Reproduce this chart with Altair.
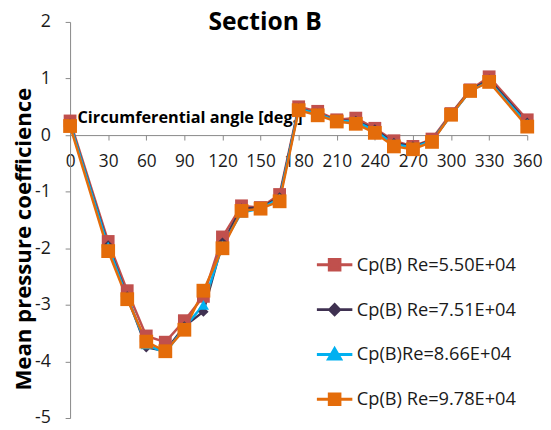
import altair as alt
import pandas as pd

angles = [0, 30, 45, 60, 75, 90, 105, 120, 135, 150, 165, 180, 195, 210, 225, 240, 255, 270, 285, 300, 315, 330, 360]

series_names = ["Cp(B) Re=5.50E+04", "Cp(B) Re=7.51E+04", "Cp(B)Re=8.66E+04", "Cp(B) Re=9.78E+04"]

cp_550 = [0.25, -1.88, -2.75, -3.55, -3.66, -3.28, -2.85, -1.80, -1.25, -1.28, -1.05, 0.50, 0.42, 0.27, 0.30, 0.12, -0.10, -0.20, -0.07, 0.38, 0.80, 1.03, 0.27]
cp_751 = [0.20, -1.95, -2.85, -3.75, -3.82, -3.38, -3.12, -1.90, -1.30, -1.28, -1.10, 0.47, 0.38, 0.26, 0.25, 0.10, -0.14, -0.20, -0.10, 0.36, 0.79, 0.98, 0.22]
cp_866 = [0.20, -1.97, -2.87, -3.70, -3.85, -3.40, -3.00, -1.95, -1.37, -1.30, -1.12, 0.46, 0.38, 0.25, 0.24, 0.08, -0.16, -0.22, -0.10, 0.35, 0.78, 0.95, 0.20]
cp_978 = [0.16, -2.05, -2.90, -3.65, -3.82, -3.44, -2.75, -2.00, -1.34, -1.30, -1.17, 0.44, 0.35, 0.24, 0.20, 0.04, -0.20, -0.25, -0.12, 0.36, 0.78, 0.94, 0.15]

colors = ["#C0504D", "#3F3151", "#00B0F0", "#E46C0A"]

y_ticks = [-5, -4, -3, -2, -1, 0, 1, 2]
x_ticks = [0, 30, 60, 90, 120, 150, 180, 210, 240, 270, 300, 330, 360]

rows = []
for name, vals in zip(series_names, [cp_550, cp_751, cp_866, cp_978]):
    for a, v in zip(angles, vals):
        rows.append({"angle": a, "cp": v, "series": name})
df = pd.DataFrame(rows)

# legend symbols: a short line with the marker on it
sq_path = "M-1,0H1M-0.3,-0.3H0.3V0.3H-0.3Z"
dia_path = "M-1,0H1M0,-0.28L0.28,0L0,0.28L-0.28,0Z"
tri_path = "M-1,0H1M0,-0.32L0.34,0.26H-0.34Z"
legend_shapes = [sq_path, dia_path, tri_path, sq_path]

H = 402
W = 464

x_enc = alt.X(
    "angle:Q",
    scale=alt.Scale(domain=[0, 360], nice=False, zero=False),
    axis=alt.Axis(
        orient="bottom",
        offset=-(H * 5 / 7),
        values=x_ticks,
        tickSize=5,
        labelPadding=13,
        labelFontSize=17.5,
        labelColor="#1a1a1a",
        labelFlush=False,
        labelOverlap=False,
        domainColor="#888888",
        tickColor="#888888",
        grid=False,
        title="Circumferential angle [deg.]",
        titleX=7,
        titleY=-18,
        titleAlign="left",
        titleBaseline="middle",
        titleFontSize=16.5,
        titleFontWeight="bold",
        titleColor="#000000",
    ),
)

y_enc = alt.Y(
    "cp:Q",
    scale=alt.Scale(domain=[-5, 2], nice=False, zero=False),
    axis=alt.Axis(
        values=y_ticks,
        labelExpr="'' + datum.value",
        tickSize=5,
        labelPadding=15,
        labelFontSize=18,
        labelColor="#1a1a1a",
        domainColor="#888888",
        tickColor="#888888",
        grid=False,
        title="Mean pressure coefficience",
        titleX=-47,
        titleY=220,
        titleAngle=270,
        titleAlign="center",
        titleBaseline="middle",
        titleFontSize=22.5,
        titleFontWeight="bold",
        titleColor="#000000",
    ),
)

color_scale = alt.Scale(domain=series_names, range=colors)

base = alt.Chart(df)

lines = base.mark_line(strokeWidth=2.5).encode(
    x=x_enc,
    y=y_enc,
    color=alt.Color("series:N", scale=color_scale, legend=None),
)

red_pts = base.transform_filter(alt.datum.series == series_names[0]).mark_point(
    filled=True, opacity=1, shape="square", size=169
).encode(x=x_enc, y=y_enc, color=alt.Color("series:N", scale=color_scale, legend=None))

dark_pts = base.transform_filter(alt.datum.series == series_names[1]).mark_point(
    filled=True, opacity=1, shape="diamond", size=110
).encode(x=x_enc, y=y_enc, color=alt.Color("series:N", scale=color_scale, legend=None))

blue_pts = base.transform_filter(alt.datum.series == series_names[2]).mark_point(
    filled=True, opacity=1, shape="triangle-up", size=130
).encode(x=x_enc, y=y_enc, color=alt.Color("series:N", scale=color_scale, legend=None))

orange_pts = base.transform_filter(alt.datum.series == series_names[3]).mark_point(
    filled=True, opacity=1, shape="square", size=196
).encode(x=x_enc, y=y_enc, color=alt.Color("series:N", scale=color_scale, legend=None))

leg = alt.Legend(
    title=None,
    orient="none",
    legendX=249,
    legendY=227,
    symbolSize=1296,
    symbolStrokeWidth=3,
    symbolOpacity=1,
    labelFontSize=18.5,
    labelColor="#1a1a1a",
    labelOffset=3,
    rowPadding=14.5,
    padding=0,
    labelLimit=400,
)

# legend-only layer (draws no marks; its fill/stroke/shape scales feed the legend)
legend_layer = base.transform_filter("datum.cp > 100").mark_point(filled=True, opacity=1).encode(
    x=x_enc,
    y=y_enc,
    fill=alt.Fill("series:N", scale=alt.Scale(domain=series_names, range=colors), legend=leg),
    stroke=alt.Stroke("series:N", scale=alt.Scale(domain=series_names, range=colors), legend=leg),
    shape=alt.Shape("series:N", scale=alt.Scale(domain=series_names, range=legend_shapes), legend=leg),
)

chart = (
    alt.layer(legend_layer, lines, red_pts, dark_pts, blue_pts, orange_pts)
    .properties(
        width=W,
        height=H,
        autosize=alt.AutoSizeParams(type="none"),
        padding={"left": 63, "top": 11, "right": 16, "bottom": 7},
        title=alt.TitleParams(
            "Section B",
            fontSize=25,
            fontWeight="bold",
            font="Open Sans",
            color="#000000",
            anchor="middle",
            frame="group",
            dx=-34,
            dy=42,
            offset=0,
            baseline="alphabetic",
        ),
    )
    .configure(font="Open Sans")
    .configure_view(stroke=None)
)

chart.save("out.html", embed_options={"renderer": "svg", "actions": False})
